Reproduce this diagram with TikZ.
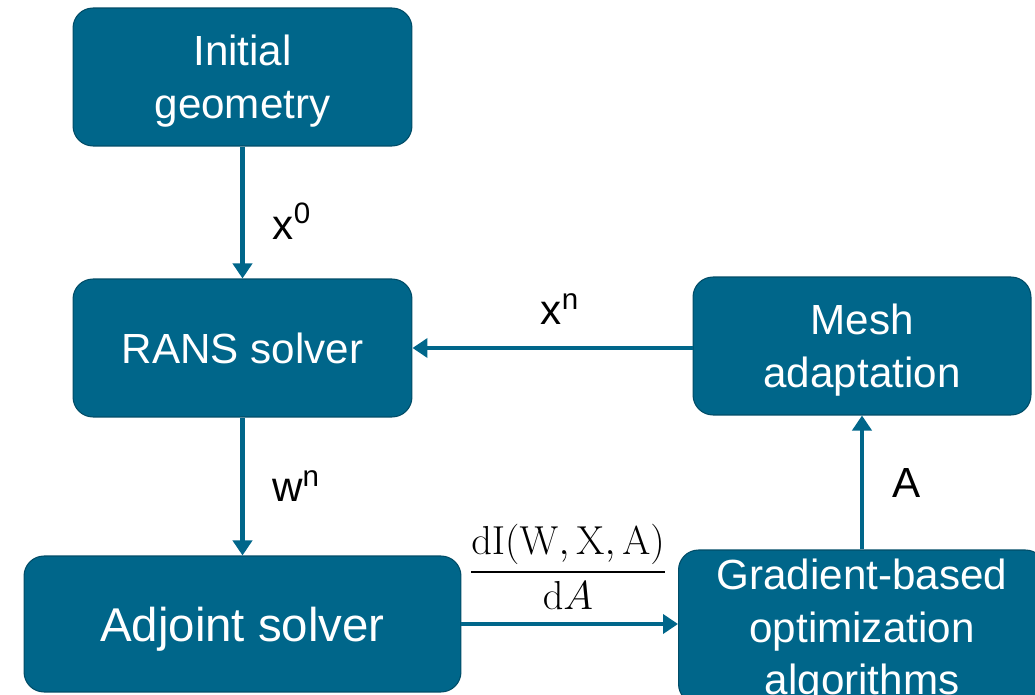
\documentclass[tikz,border=0pt]{standalone}
\usepackage[no-math]{fontspec}
\setmainfont{Liberation Sans}
\usepackage{amsmath}
\usetikzlibrary{arrows.meta}
\definecolor{boxblue}{RGB}{0,102,138}

\begin{document}
\begin{tikzpicture}[x=0.02cm, y=-0.02cm,
    block/.style={draw=boxblue!75!black, line width=0.6pt, fill=boxblue, rounded corners=0.4cm,
      text=white, align=center, font=\fontsize{24}{30}\selectfont, inner sep=0pt, text depth=0pt},
    lbl/.style={inner sep=0pt, font=\fontsize{24}{28.5}\selectfont},
    flow/.style={draw=boxblue, line width=2.3pt, -{Triangle[length=0.3cm, width=0.38cm]}}]
	\useasboundingbox (0,0) rectangle (1035,695);
	\clip (0,0) rectangle (1035,695);
	% boxes
	\node[block, minimum width=6.78cm, minimum height=2.76cm] (init) at (242.5,77) {Initial\\geometry};
	\node[block, minimum width=6.78cm, minimum height=2.76cm] (rans) at (242.5,348) {RANS solver};
	\node[block, minimum width=6.76cm, minimum height=2.76cm] (mesh) at (862,346) {Mesh\\adaptation};
	\node[block, minimum width=8.74cm, minimum height=2.72cm, font=\fontsize{27}{32}\selectfont] (adj) at (242.5,624) {Adjoint solver};
	\node[block, minimum width=7.34cm, minimum height=3.08cm] (grad) at (862,627) {Gradient-based\\optimization\\algorithms};
	% arrows
	\draw[flow] (init.south) -- (rans.north);
	\draw[flow] (rans.south) -- (adj.north);
	\draw[flow] (mesh.west |- 0,348) -- (rans.east);
	\draw[flow] (grad.north) -- (mesh.south);
	\draw[flow] (adj.east) -- (adj.east -| grad.west);
	% labels
	\node[lbl] (lx0) at (292,221) {x\textsuperscript{0}};
	\node[lbl] (lwn) at (296,486) {w\textsuperscript{n}};
	\node[lbl] (lxn) at (560,309) {x\textsuperscript{n}};
	\node[lbl] (la) at (907,483) {A};
	\node[inner sep=0pt, scale=1.11, font=\fontsize{20.74}{24}\selectfont] (grd) at (568,567)
		{$\displaystyle\frac{\mathrm{dI}(\mathrm{W},\mathrm{X},\mathrm{A})}{\mathrm{d}A}$};
\end{tikzpicture}
\end{document}
